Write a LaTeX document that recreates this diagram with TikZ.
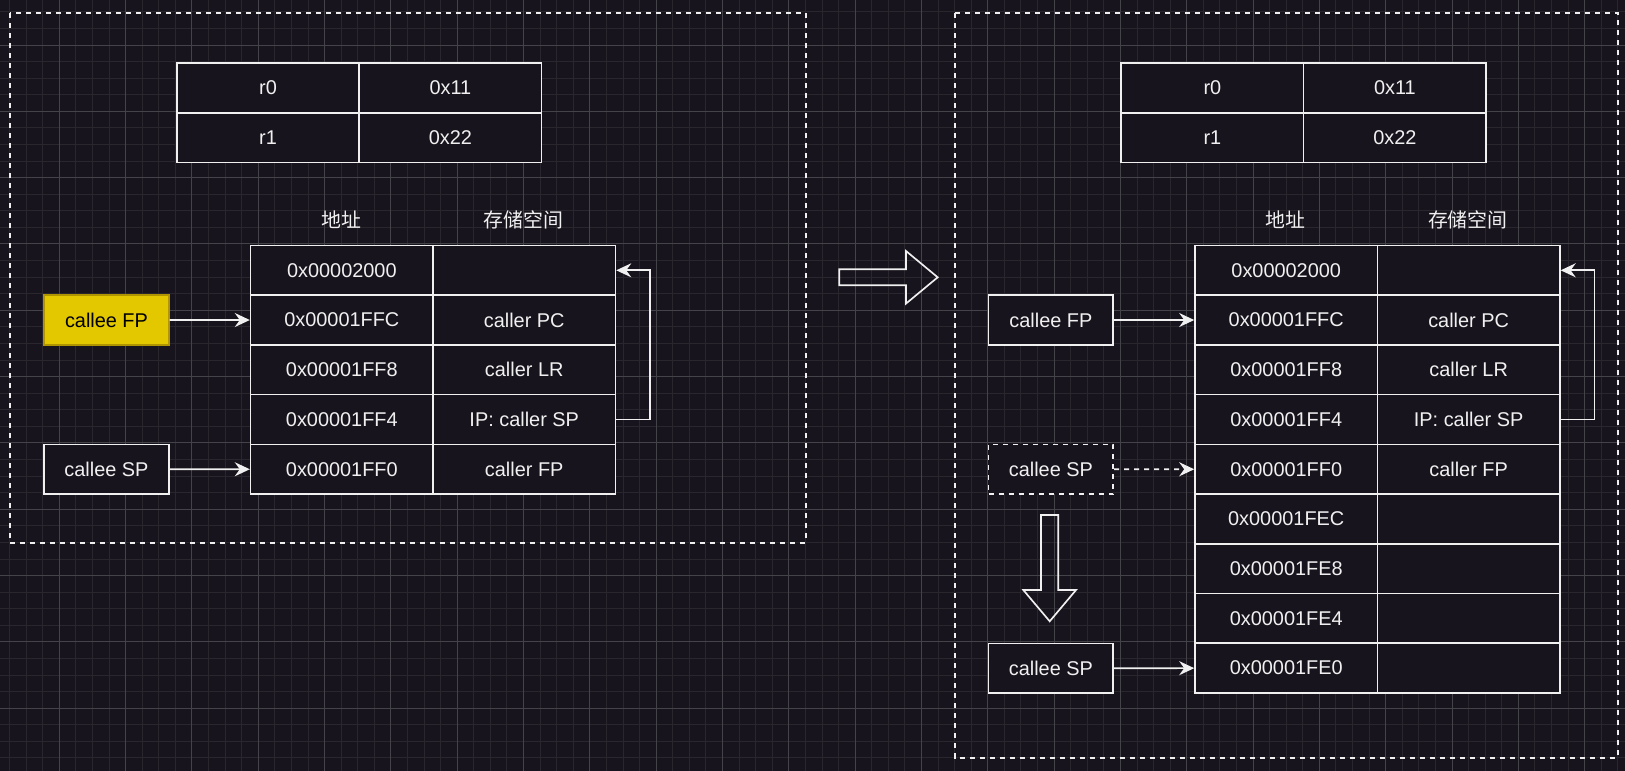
\documentclass[tikz,border=0pt]{standalone}
\usepackage{fontspec}
\setmainfont{Liberation Sans}
\newfontfamily\cjk{Noto Sans CJK SC}
\usetikzlibrary{arrows.meta}
\definecolor{bg}{HTML}{18141D}
\definecolor{fg}{HTML}{F0F0F0}
\definecolor{gridmajor}{HTML}{45434A}
\definecolor{gridminor}{HTML}{29262E}
\definecolor{fpfill}{HTML}{E3C800}
\definecolor{fpline}{HTML}{B09500}
\tikzset{
  cell/.style={draw=fg, fill=bg, line width=1.66pt, inner sep=0pt, anchor=north west,
    minimum width=182.4pt, minimum height=49.73pt},
  ptrbox/.style={cell, minimum width=124.7pt},
  arr/.style={draw=fg, line width=1.66pt, -{Stealth[length=15pt,width=14pt,inset=5pt]}},
  frame/.style={draw=fg, line width=1.66pt, dash pattern=on 5pt off 5pt},
  hollow/.style={draw=fg, line width=1.66pt},
}
\begin{document}
\begin{tikzpicture}[x=1pt, y=-1pt, every node/.style={font=\fontsize{19.9}{24}\selectfont, text=fg}]
  \useasboundingbox (0,0) rectangle (1625,771);
  \fill[bg] (0,0) rectangle (1625,771);
  \begin{scope}[shift={(-7,-21.3)}]
    \draw[gridminor, line width=1pt, step=16.58pt] (0,0) grid (1640,800);
    \draw[gridmajor, line width=1pt, step=66.32pt] (0,0) grid (1640,800);
  \end{scope}
  \draw[frame] (10,13.3) rectangle (805.7,543);
  \draw[frame] (955,13.3) rectangle (1617.7,758);
  % registers and column heads, same on both sides
  \foreach \dx/\s in {0/l, 944.4/r} {
    \foreach \k/\val [count=\i from 0] in {r0/0x11, r1/0x22} {
      \node[cell] (\s-reg\i) at (176+\dx,62.3+\i*49.73) {\k};
      \node[cell] (\s-val\i) at (358.4+\dx,62.3+\i*49.73) {\val};
    }
    \node (\s-hadr) at (341+\dx,219.7) {\cjk 地址};
    \node (\s-hmem) at (523.4+\dx,219.7) {\cjk 存储空间};
  }
  % stack before
  \foreach \a/\v [count=\i from 0] in {0x00002000/{}, 0x00001FFC/caller PC, 0x00001FF8/caller LR,
      0x00001FF4/IP: caller SP, 0x00001FF0/caller FP} {
    \node[cell] (l-adr\i) at (249.8,244.6+\i*49.73) {\a};
    \node[cell] (l-mem\i) at (432.2,244.6+\i*49.73) {\v};
  }
  % stack after
  \foreach \a/\v [count=\i from 0] in {0x00002000/{}, 0x00001FFC/caller PC, 0x00001FF8/caller LR,
      0x00001FF4/IP: caller SP, 0x00001FF0/caller FP, 0x00001FEC/{}, 0x00001FE8/{},
      0x00001FE4/{}, 0x00001FE0/{}} {
    \node[cell] (r-adr\i) at (1194.2,244.6+\i*49.73) {\a};
    \node[cell] (r-mem\i) at (1376.6,244.6+\i*49.73) {\v};
  }
  \node[ptrbox, fill=fpfill, draw=fpline, text=black] (l-fp) at (43.3,294.3) {callee FP};
  \node[ptrbox] (l-sp) at (43.3,443.6) {callee SP};
  \node[ptrbox] (r-fp) at (987.7,294.3) {callee FP};
  \node[ptrbox, dash pattern=on 5pt off 5pt] (r-sp0) at (987.7,443.6) {callee SP};
  \node[ptrbox] (r-sp) at (987.7,642.5) {callee SP};
  \draw[arr] (l-fp) -- (l-adr1);
  \draw[arr] (l-sp) -- (l-adr4);
  \draw[arr] (l-mem3.east) -- ++(33.7,0) |- (l-mem0.east);
  \draw[arr] (r-fp) -- (r-adr1);
  \draw[arr, dash pattern=on 5pt off 5pt] (r-sp0) -- (r-adr4);
  \draw[arr] (r-sp) -- (r-adr8);
  \draw[arr] (r-mem3.east) -- ++(33.7,0) |- (r-mem0.east);
  % hollow arrows
  \draw[hollow] (839.3,269.3) -| (906,251) -- (937.7,277.3) -- (906,303.6) |- (839.3,285.3) -- cycle;
  \draw[hollow] (1041,515) |- (1023.3,590) -- (1049.7,621.3) -- (1076,590) -| (1058.3,515) -- cycle;
\end{tikzpicture}
\end{document}
